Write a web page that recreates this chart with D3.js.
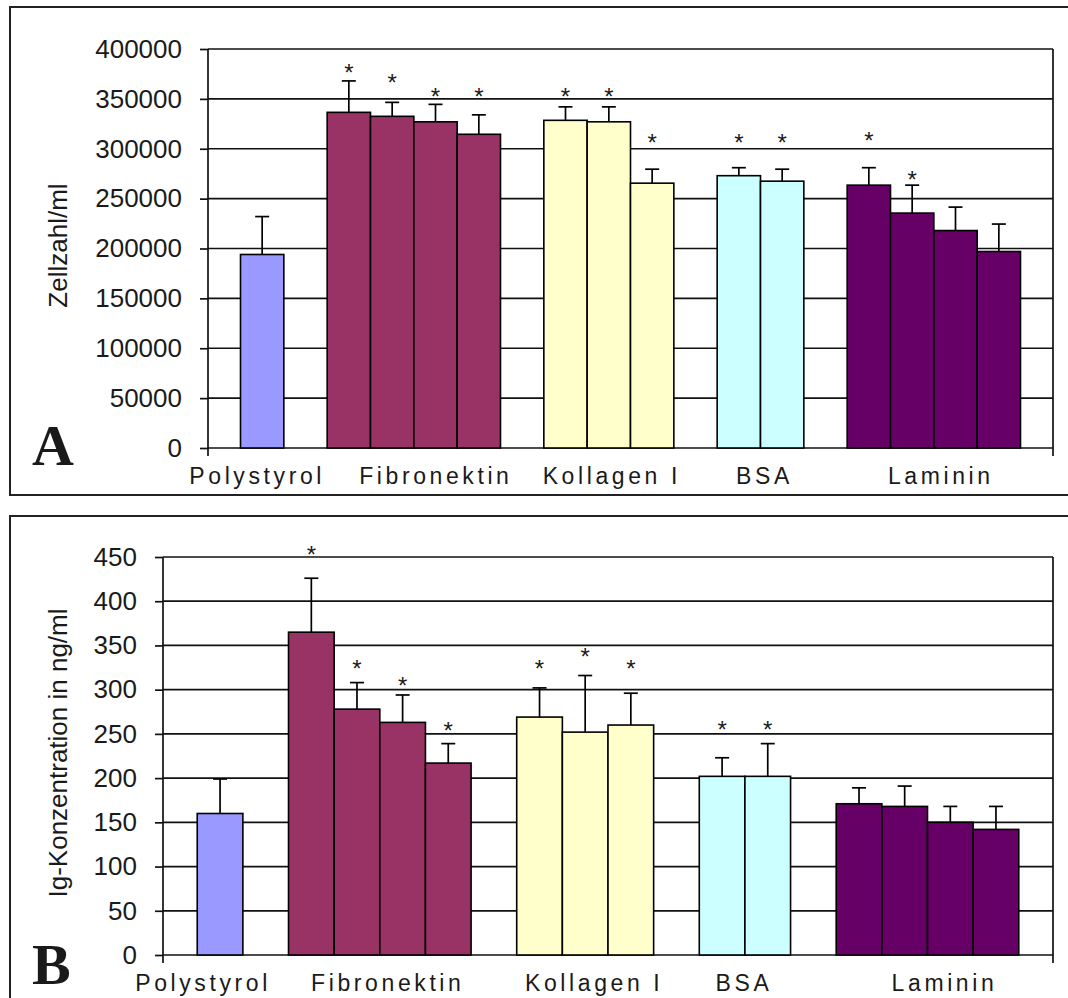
<!DOCTYPE html>
<html>
<head>
<meta charset="utf-8">
<script src="https://cdn.jsdelivr.net/npm/d3@7"></script>
<style>
  html, body { margin: 0; padding: 0; background: #fff; }
  svg { display: block; }
  text { font-family: "Liberation Sans", Arial, sans-serif; fill: #1a1a1a; }
</style>
</head>
<body>
<svg id="chart" width="1068" height="998"></svg>
<script>
// categories and how many bars each one has
const groups = ['Polystyrol', 'Fibronektin', 'Kollagen I', 'BSA', 'Laminin'];
const groupSizes = [1, 4, 3, 2, 4];

// A: cell count (Zellzahl/ml), mean and SD per bar
const meansA = [194000, 336500, 332500, 327000, 314500, 328500, 327000, 265500, 273000, 267500, 263500, 235500, 218000, 197000];
const sdA = [38000, 31500, 14000, 17500, 19500, 13500, 15000, 14000, 8000, 12000, 17500, 28000, 23500, 27500];
// height where the significance star sits (null = none)
const starsA = [null, 382000, 372000, 358000, 358000, 358000, 358000, 312000, 312000, 312000, 314000, 275000, null, null];
const ticksA = [0, 50000, 100000, 150000, 200000, 250000, 300000, 350000, 400000];

// B: Ig concentration in ng/ml
const meansB = [160, 365, 278, 263, 217, 269, 252, 260, 202, 202, 171, 168, 150, 142];
const sdB = [39, 61, 30, 31, 22, 33, 64, 36, 21, 37, 18, 23, 18, 26];
const starsB = [null, 459, 331, 311, 260, 331, 344, 331, 262, 262, null, null, null, null];
const ticksB = [0, 50, 100, 150, 200, 250, 300, 350, 400, 450];

const groupColors = ['#9999ff', '#993366', '#ffffcc', '#ccffff', '#660066'];

const svg = d3.select('#chart');
svg.append('rect').attr('width', 1068).attr('height', 998).attr('fill', '#fff');

// one slot per bar, with an empty slot between groups
const slots = [];
groups.forEach((g, gi) => {
  for (let k = 0; k < groupSizes[gi]; k++) slots.push({ key: g + k, group: gi });
  if (gi < groups.length - 1) slots.push({ key: 'gap' + gi, group: -1 });
});
const bars = slots.filter(s => s.group >= 0);

function drawPanel(cfg) {
  const g = svg.append('g');

  // outer frame
  g.append('rect')
    .attr('x', 10).attr('y', cfg.frameTop)
    .attr('width', 1080).attr('height', cfg.frameH)
    .attr('fill', 'none').attr('stroke', '#222').attr('stroke-width', 2);

  const x = d3.scaleBand()
    .domain(slots.map(s => s.key))
    .range([cfg.left, cfg.right])
    .paddingInner(0).paddingOuter(0.75);
  const y = d3.scaleLinear()
    .domain([0, d3.max(cfg.ticks)])
    .range([cfg.bottom, cfg.top]);

  // gridlines
  g.append('g').selectAll('line').data(cfg.ticks).join('line')
    .attr('x1', cfg.left).attr('x2', cfg.right)
    .attr('y1', d => y(d)).attr('y2', d => y(d))
    .attr('stroke', '#111').attr('stroke-width', 1.7);

  // y axis
  const ax = g.append('g')
    .attr('transform', `translate(${cfg.left},0)`)
    .call(d3.axisLeft(y).tickValues(cfg.ticks).tickFormat(d3.format('d'))
      .tickSize(8).tickSizeOuter(0).tickPadding(18));
  ax.select('.domain').remove();
  ax.selectAll('.tick line').attr('stroke', '#111').attr('stroke-width', 1.7);
  ax.selectAll('.tick text')
    .style('font-family', '"Liberation Sans", Arial, sans-serif')
    .style('font-size', '26px').attr('fill', '#1a1a1a');

  // axis lines and right border
  g.append('line').attr('x1', cfg.left).attr('x2', cfg.left)
    .attr('y1', cfg.top).attr('y2', cfg.bottom + 8)
    .attr('stroke', '#111').attr('stroke-width', 1.7);
  g.append('line').attr('x1', cfg.right).attr('x2', cfg.right)
    .attr('y1', cfg.top).attr('y2', cfg.bottom + 8)
    .attr('stroke', '#111').attr('stroke-width', 1.7);

  // bars
  g.append('g').selectAll('rect').data(bars).join('rect')
    .attr('x', d => x(d.key))
    .attr('width', x.bandwidth())
    .attr('y', (d, i) => y(cfg.means[i]))
    .attr('height', (d, i) => cfg.bottom - y(cfg.means[i]))
    .attr('fill', d => groupColors[d.group])
    .attr('stroke', '#000').attr('stroke-width', 1.6);

  // error bars (upper only)
  const eb = g.append('g').attr('stroke', '#000').attr('stroke-width', 1.7);
  bars.forEach((d, i) => {
    const cx = x(d.key) + x.bandwidth() / 2;
    const yTop = y(cfg.means[i] + cfg.sds[i]);
    eb.append('line').attr('x1', cx).attr('x2', cx)
      .attr('y1', y(cfg.means[i])).attr('y2', yTop);
    eb.append('line').attr('x1', cx - 7).attr('x2', cx + 7)
      .attr('y1', yTop).attr('y2', yTop);
  });

  // significance stars
  g.append('g').selectAll('text')
    .data(bars.map((d, i) => ({ d, v: cfg.stars[i] })).filter(s => s.v != null))
    .join('text')
    .attr('x', s => x(s.d.key) + x.bandwidth() / 2)
    .attr('y', s => y(s.v))
    .attr('dy', '0.6em')
    .attr('text-anchor', 'middle')
    .style('font-size', '24px')
    .text('*');

  // category labels under each group
  groups.forEach((name, gi) => {
    const mine = bars.filter(b => b.group === gi);
    const x0 = x(mine[0].key), x1 = x(mine[mine.length - 1].key) + x.bandwidth();
    g.append('text')
      .attr('x', (x0 + x1) / 2 + cfg.labelShift[gi] + 2)
      .attr('y', cfg.bottom + 36)
      .attr('text-anchor', 'middle')
      .style('font-size', '23px')
      .style('letter-spacing', '3.6px')
      .text(name);
  });

  // y axis title
  g.append('text')
    .attr('transform', `translate(67,${(cfg.top + cfg.bottom) / 2 - 3}) rotate(-90)`)
    .attr('text-anchor', 'middle')
    .style('font-size', '26px')
    .text(cfg.title);

  // panel letter
  g.append('text')
    .attr('x', 32).attr('y', cfg.letterY)
    .attr('dominant-baseline', 'text-after-edge')
    .style('font-family', '"Liberation Serif", "Times New Roman", serif')
    .style('font-weight', 'bold')
    .style('font-size', '58px')
    .attr('fill', '#000')
    .text(cfg.letter);
}

drawPanel({
  frameTop: 7, frameH: 488,
  left: 208, right: 1053, top: 49, bottom: 448,
  ticks: ticksA, means: meansA, sds: sdA, stars: starsA,
  title: 'Zellzahl/ml', letter: 'A', letterY: 478,
  labelShift: [-7, 20, 1, 2, 5]
});

drawPanel({
  frameTop: 516, frameH: 500,
  left: 163, right: 1053, top: 557, bottom: 955,
  ticks: ticksB, means: meansB, sds: sdB, stars: starsB,
  title: 'Ig-Konzentration in ng/ml', letter: 'B', letterY: 997,
  labelShift: [-19, 6, 7, -3, 15]
});
</script>
</body>
</html>
